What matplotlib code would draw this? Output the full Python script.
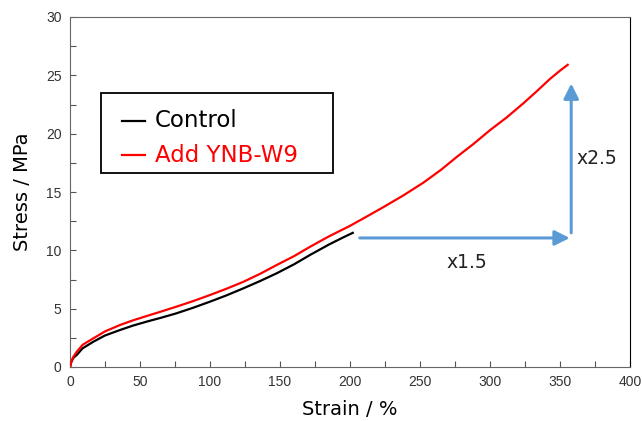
import numpy as np
import matplotlib
matplotlib.use("Agg")
import matplotlib.pyplot as plt
from matplotlib.patches import Rectangle
from matplotlib.ticker import MultipleLocator

# strain (%) / stress (MPa)
control_strain = [0, 1, 2.5, 4.8, 9, 16.7, 25, 35.7, 45, 54.8, 65, 76, 88, 100, 112, 123.8, 136, 147.6, 160, 171.4, 185, 195, 202]
control_stress = [0, 0.45, 0.8, 1.03, 1.6, 2.17, 2.7, 3.17, 3.55, 3.89, 4.22, 4.6, 5.08, 5.6, 6.15, 6.74, 7.38, 8.03, 8.8, 9.6, 10.5, 11.1, 11.5]

add_strain = [0, 1, 2.5, 4.8, 9, 16.7, 25, 35.7, 45, 54.8, 65, 76, 88, 100, 112, 123.8, 136, 147.6, 160, 171.4, 185, 200,
              212, 223.8, 238, 252.4, 265, 276.2, 288, 300, 312, 323.8, 334, 342.9, 350, 355.5]
add_stress = [0, 0.5, 0.9, 1.3, 1.9, 2.46, 3.05, 3.6, 4.0, 4.37, 4.75, 5.17, 5.65, 6.17, 6.72, 7.3, 8.0, 8.74, 9.5, 10.3, 11.2, 12.1,
              12.9, 13.7, 14.7, 15.8, 16.9, 18.0, 19.1, 20.3, 21.4, 22.6, 23.7, 24.7, 25.4, 25.9]

labels = ['Control', 'Add YNB-W9']
colors = ['black', 'red']

# ratio arrows
arrow_y = 11.06
arrow_x0, arrow_x1 = 207, 357
arrow_v0, arrow_v1 = 11.5, 24.3

plt.rcParams['font.family'] = ['Verdana', 'DejaVu Sans']

fig = plt.figure(figsize=(6.42, 4.21), dpi=100)
ax = fig.add_axes([70 / 642, 1 - 367 / 421, 560 / 642, 350 / 421])

ax.plot(add_strain, add_stress, color='red', lw=1.6, zorder=3)
ax.plot(control_strain, control_stress, color='black', lw=1.6, zorder=2)

blue = '#5B9BD5'
ax.annotate('', xy=(arrow_x1, arrow_y), xytext=(arrow_x0, arrow_y),
            arrowprops=dict(arrowstyle='-|>,head_length=0.9,head_width=0.45', color=blue, lw=2.2, shrinkA=0, shrinkB=0))
ax.annotate('', xy=(arrow_x1 + 1, arrow_v1), xytext=(arrow_x1 + 1, arrow_v0),
            arrowprops=dict(arrowstyle='-|>,head_length=0.9,head_width=0.45', color=blue, lw=2.2, shrinkA=0, shrinkB=0))
ax.text(283.6, 9.0, 'x1.5', fontsize=13.5, ha='center', va='center', color='#222222')
ax.text(362, 17.9, 'x2.5', fontsize=13.5, ha='left', va='center', color='#222222')

# legend box like the original: plain rectangle with short lines and coloured text
ax.add_patch(Rectangle((22.1, 16.6), 165.8, 6.9, fill=False, edgecolor='black', lw=1.3, zorder=4))
for lab, col, yy in zip(labels, colors, [21.09, 18.17]):
    ax.plot([37.1, 53.6], [yy, yy], color=col, lw=1.6, zorder=4)
    ax.text(60.7, yy, lab, color=col, fontsize=16.5, ha='left', va='center', zorder=4)

ax.set_xlim(0, 400)
ax.set_ylim(0, 30)
ax.xaxis.set_major_locator(MultipleLocator(50))
ax.xaxis.set_minor_locator(MultipleLocator(25))
ax.yaxis.set_major_locator(MultipleLocator(5))
ax.yaxis.set_minor_locator(MultipleLocator(2.5))
ax.tick_params(which='both', direction='in', length=4, width=0.8, color='#555555',
               labelsize=10, labelcolor='#333333')
ax.tick_params(which='major', pad=6)
for t in ax.get_xticklabels() + ax.get_yticklabels():
    t.set_fontfamily('Liberation Sans')
for s in ['left', 'top', 'bottom']:
    ax.spines[s].set_color('#666666')
ax.spines['right'].set_color('black')

ax.set_xlabel('Strain / %', fontsize=14, labelpad=8)
ax.set_ylabel('Stress / MPa', fontsize=14, labelpad=10)

fig.savefig('out.png', dpi=100)
